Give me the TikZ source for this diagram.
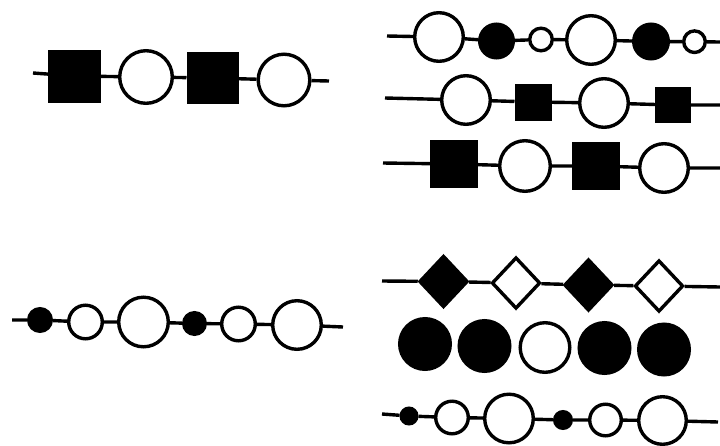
\documentclass[tikz,border=0pt]{standalone}
\usetikzlibrary{shapes.geometric}
\begin{document}
\begin{tikzpicture}[x=1pt,y=-1pt,
  lw/.style={line width=3.4pt},
  oc/.style={circle,draw,lw,fill=white,inner sep=0pt,minimum size=#1},
  fc/.style={circle,draw,lw,fill=black,inner sep=0pt,minimum size=#1},
  sq/.style={rectangle,draw,lw,fill=black,inner sep=0pt,minimum size=#1},
  fd/.style={diamond,draw,lw,fill=black,inner sep=0pt,minimum width=48.5pt,minimum height=51.5pt},
  od/.style={diamond,draw,lw,fill=white,inner sep=0pt,minimum width=48.5pt,minimum height=51.5pt},
  wire/.style={lw}]
\useasboundingbox (0,0) rectangle (720,445);
% Row A (top left)
\coordinate (a0) at (33,73);
\node[sq=49.6pt] (a1) at (74.5,76) {};
\node[oc=52.6pt] (a2) at (146,77) {};
\node[sq=48.6pt] (a3) at (212.5,78) {};
\node[oc=51.6pt] (a4) at (284,80) {};
\coordinate (a5) at (329,81);
\draw[wire] (a0) -- (a1) -- (a2) -- (a3) -- (a4) -- (a5);
% Row B1
\coordinate (b0) at (387,36);
\node[oc=48.6pt] (b1) at (439,37) {};
\node[fc=33.6pt] (b2) at (496.5,41) {};
\node[oc=22.6pt] (b3) at (541,39.5) {};
\node[oc=48.6pt] (b4) at (591,40) {};
\node[fc=34.6pt] (b5) at (651,41.5) {};
\node[oc=21.6pt] (b6) at (694.5,41.7) {};
\coordinate (b7) at (720,42);
\draw[wire] (b0) -- (b1) -- (b2) -- (b3) -- (b4) -- (b5) -- (b6) -- (b7);
% Row B2
\coordinate (c0) at (385,98);
\node[oc=48.6pt] (c1) at (466,100) {};
\node[sq=33.6pt] (c2) at (533,102) {};
\node[oc=48.6pt] (c3) at (604,103) {};
\node[sq=32.6pt] (c4) at (673,105) {};
\coordinate (c5) at (720,105);
\draw[wire] (c0) -- (c1) -- (c2) -- (c3) -- (c4) -- (c5);
% Row B3
\coordinate (d0) at (383,163);
\node[sq=44.6pt] (d1) at (454,164) {};
\node[oc=50.6pt] (d2) at (525,166) {};
\node[sq=44.6pt] (d3) at (596,166) {};
\node[oc=48.6pt] (d4) at (664,168) {};
\coordinate (d5) at (720,168);
\draw[wire] (d0) -- (d1) -- (d2) -- (d3) -- (d4) -- (d5);
% Row C (bottom left)
\coordinate (e0) at (12,320);
\node[fc=22.6pt] (e1) at (40,320) {};
\node[oc=33.6pt] (e2) at (85.5,322) {};
\node[oc=49.6pt] (e3) at (143.5,322) {};
\node[fc=21.6pt] (e4) at (194.5,323.5) {};
\node[oc=33.6pt] (e5) at (238.5,324) {};
\node[oc=48.6pt] (e6) at (297,325) {};
\coordinate (e7) at (343,327);
\draw[wire] (e0) -- (e1) -- (e2) -- (e3) -- (e4) -- (e5) -- (e6) -- (e7);
% Row D1 (diamonds)
\coordinate (f0) at (382,281);
\node[fd] (f1) at (443.5,281.5) {};
\node[od] (f2) at (516,283) {};
\node[fd] (f3) at (588.5,285) {};
\node[od] (f4) at (659,286) {};
\coordinate (f5) at (720,287);
\draw[wire] (f0) -- (f1) -- (f2) -- (f3) -- (f4) -- (f5);
% Row D2 (circles, no line)
\node[fc=50.6pt] (g1) at (425,344) {};
\node[fc=50.6pt] (g2) at (484.5,346) {};
\node[oc=49.6pt] (g3) at (545,347.5) {};
\node[fc=50.6pt] (g4) at (604.5,348) {};
\node[fc=50.6pt] (g5) at (664,349.5) {};
% Row D3
\coordinate (h0) at (382,414);
\node[fc=15.6pt] (h1) at (409,416) {};
\node[oc=32.6pt] (h2) at (452,417.5) {};
\node[oc=48.6pt] (h3) at (509,418.5) {};
\node[fc=16.6pt] (h4) at (563,420) {};
\node[oc=31.6pt] (h5) at (605.5,420) {};
\node[oc=47.6pt] (h6) at (662.5,420.5) {};
\coordinate (h7) at (718,422);
\draw[wire] (h0) -- (h1) -- (h2) -- (h3) -- (h4) -- (h5) -- (h6) -- (h7);
\end{tikzpicture}
\end{document}
